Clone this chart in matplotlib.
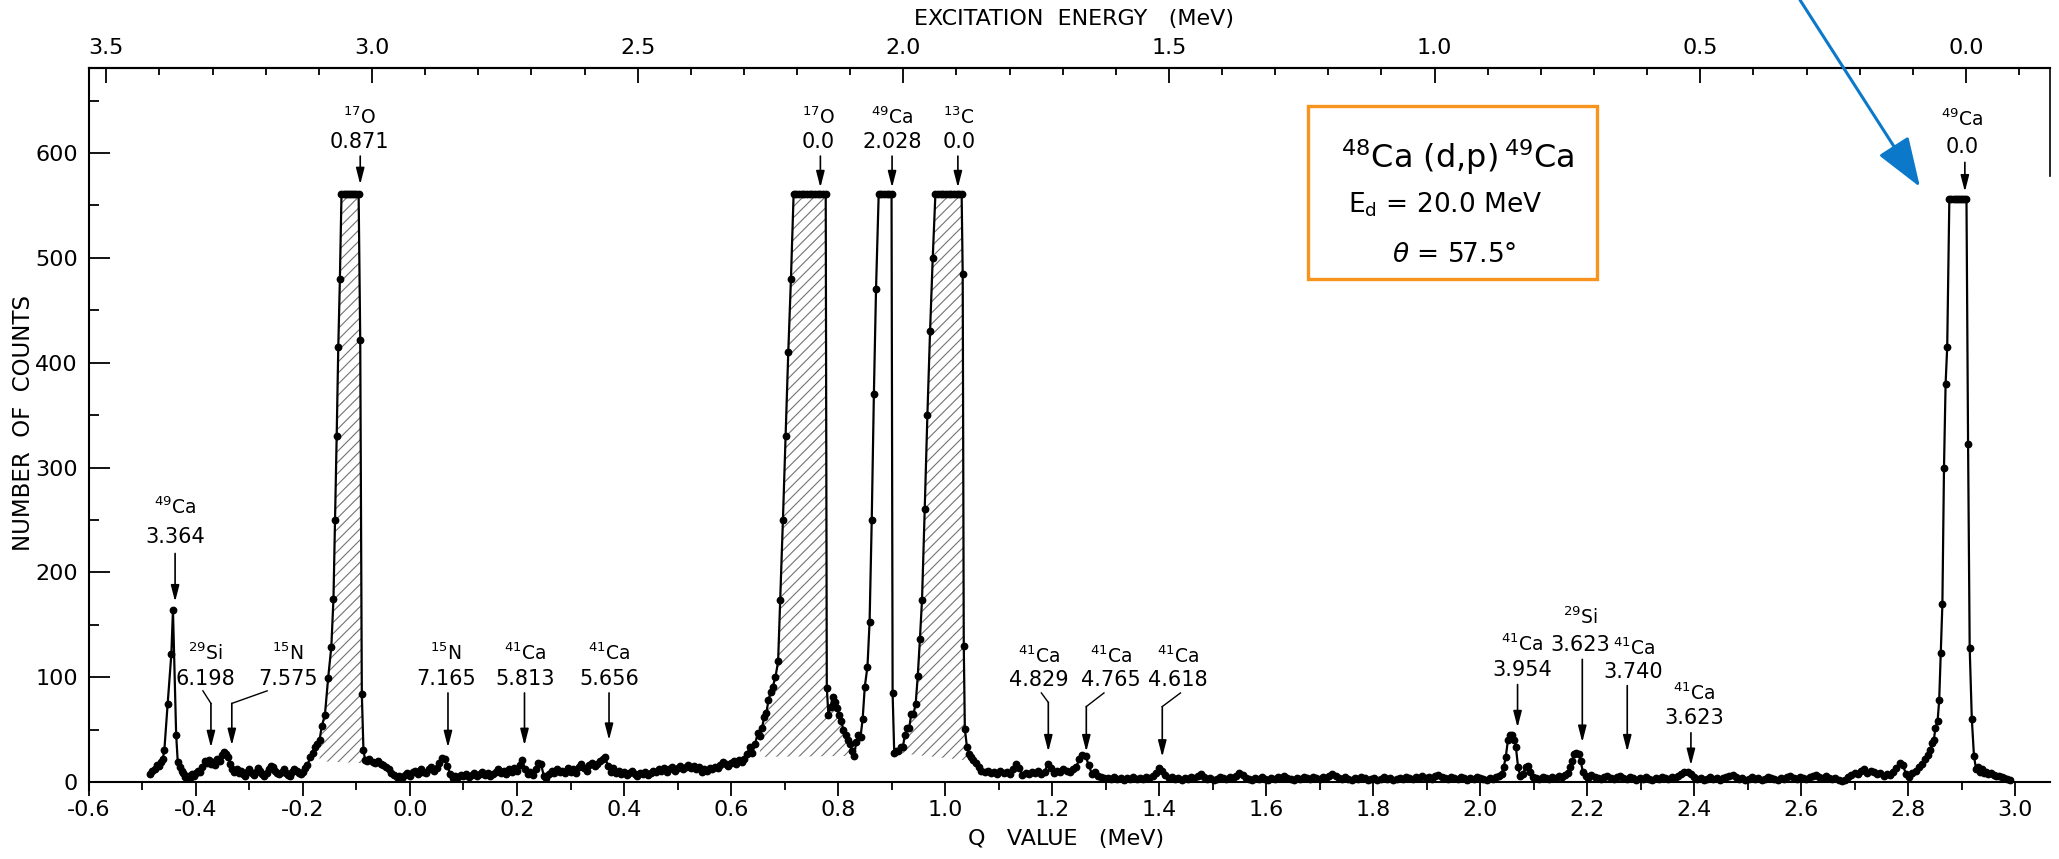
import numpy as np
import matplotlib.pyplot as plt
from matplotlib.patches import Rectangle, FancyArrowPatch
from matplotlib.ticker import MultipleLocator

plt.rcParams["font.family"] = ["DejaVu Sans"]
plt.rcParams["mathtext.fontset"] = "dejavusans"
plt.rcParams["axes.unicode_minus"] = False
plt.rcParams["hatch.linewidth"] = 0.8

# ---- spectrum (Q value in MeV, counts per strip) ----
# left edge, 49Ca 3.364 peak, 29Si / 15N bumps
q_left = [-0.486, -0.482, -0.477, -0.473, -0.470, -0.466, -0.462, -0.459, -0.453, -0.446,
          -0.443, -0.437, -0.434, -0.430, -0.427, -0.424, -0.420, -0.416, -0.412, -0.408,
          -0.404, -0.400, -0.396, -0.392, -0.388, -0.384, -0.380, -0.376, -0.372, -0.368,
          -0.364, -0.360, -0.356, -0.352, -0.348, -0.344, -0.340, -0.336, -0.332]
n_left = [8, 11, 12, 16, 15, 19, 22, 31, 74, 122,
          164, 45, 19, 14, 11, 9, 5, 6, 4, 8,
          6, 9, 11, 10, 14, 20, 18, 21, 17, 19,
          16, 22, 20, 26, 29, 27, 24, 17, 12]

# flat background runs: (first Q, last Q) and the counts in between
bg1_range = (-0.328, -0.192)
bg1_counts = [10, 12, 9, 11, 8, 6, 10, 12, 9, 7, 10, 13, 11, 8, 6, 9, 12, 15, 14, 11,
              9, 8, 10, 12, 9, 7, 6, 10, 12, 11, 9, 8, 10, 13, 16]

# 17O 0.871 (clipped at the top)
q_o871 = [-0.186, -0.182, -0.178, -0.174, -0.169, -0.165, -0.159, -0.153, -0.147, -0.143,
          -0.140, -0.137, -0.134, -0.131, -0.128, -0.124, -0.120, -0.116, -0.112, -0.108,
          -0.104, -0.100, -0.096, -0.093, -0.090, -0.087, -0.084, -0.080, -0.076]
n_o871 = [24, 28, 33, 36, 40, 53, 64, 99, 129, 175,
          250, 330, 415, 480, 561, 561, 561, 561, 561, 561,
          561, 561, 561, 422, 84, 31, 21, 20, 22]

bg2_range = (-0.070, 0.640)
bg2_counts = [19, 18, 20, 17, 16, 14, 12, 9, 7, 5, 6, 4, 7, 9, 6, 10, 11, 8, 12, 10,
              9, 12, 14, 11, 13, 18, 23, 22, 15, 8, 4, 6, 5, 7, 6, 8, 5, 7, 9, 6,
              8, 10, 7, 9, 6, 8, 10, 12, 9, 11, 8, 12, 10, 13, 11, 16, 21, 12, 8, 10,
              7, 12, 18, 17, 6, 4, 8, 11, 9, 12, 10, 11, 9, 13, 10, 12, 9, 14, 17, 13,
              11, 16, 18, 15, 17, 20, 22, 24, 15, 10, 13, 9, 11, 8, 10, 7, 9, 11, 8, 6,
              9, 8, 10, 7, 9, 11, 10, 12, 11, 13, 10, 12, 14, 11, 13, 15, 12, 14, 16, 13,
              15, 12, 14, 10, 12, 11, 13, 12, 14, 13, 16, 19, 17, 15, 18, 20, 17, 21, 19, 22,
              27, 33, 28]

# 17O 0.0 / 49Ca 2.028 / 13C 0.0 group
q_mid = [0.645, 0.650, 0.654, 0.658, 0.662, 0.666, 0.670, 0.674, 0.678, 0.683,
         0.688, 0.692, 0.697, 0.702, 0.707, 0.712, 0.717, 0.722, 0.727, 0.732,
         0.737, 0.742, 0.747, 0.752, 0.757, 0.762, 0.767, 0.772, 0.777, 0.779,
         0.782, 0.786, 0.790, 0.794, 0.798, 0.802, 0.806, 0.810, 0.814, 0.818,
         0.822, 0.826, 0.830, 0.834, 0.838, 0.842, 0.846, 0.850, 0.855, 0.859,
         0.863, 0.867, 0.871, 0.876, 0.881, 0.886, 0.891, 0.896, 0.900, 0.902,
         0.905, 0.909, 0.913, 0.917, 0.921, 0.925, 0.929, 0.933, 0.937, 0.941,
         0.945, 0.949, 0.953, 0.957, 0.962, 0.967, 0.972, 0.977, 0.982, 0.987,
         0.992, 0.997, 1.002, 1.007, 1.012, 1.017, 1.022, 1.027, 1.031, 1.033,
         1.035, 1.037, 1.041, 1.045, 1.049, 1.053, 1.058, 1.063, 1.068]
n_mid = [36, 47, 44, 52, 62, 66, 78, 86, 91, 100,
         115, 174, 250, 330, 410, 480, 561, 561, 561, 561,
         561, 561, 561, 561, 561, 561, 561, 561, 561, 90,
         64, 72, 81, 76, 71, 64, 58, 50, 45, 40,
         36, 30, 25, 38, 45, 43, 60, 91, 110, 153,
         250, 370, 470, 561, 561, 561, 561, 561, 561, 85,
         28, 30, 30, 33, 33, 45, 52, 52, 65, 65,
         74, 101, 136, 174, 260, 350, 430, 500, 561, 561,
         561, 561, 561, 561, 561, 561, 561, 561, 561, 485,
         130, 51, 33, 27, 24, 21, 18, 14, 11]

bg3_range = (1.074, 1.298)
bg3_counts = [10, 11, 9, 10, 8, 11, 9, 10, 8, 12, 17, 13, 7, 9, 8, 10, 9, 11, 8, 10,
              17, 13, 9, 11, 10, 12, 11, 10, 12, 14, 22, 26, 25, 16, 8, 10, 6, 5, 4]

bg4_range = (1.304, 2.036)
bg4_counts = [4, 3, 5, 3, 4, 2, 4, 3, 5, 3, 4, 3, 5, 4, 6, 9, 13, 11, 7, 4,
              5, 3, 4, 2, 4, 3, 5, 4, 6, 8, 5, 3, 4, 2, 3, 5, 4, 3, 5, 4,
              6, 9, 7, 4, 3, 2, 4, 3, 5, 3, 2, 4, 3, 5, 4, 6, 4, 3, 2, 4,
              3, 5, 4, 3, 5, 4, 3, 5, 4, 6, 8, 6, 4, 3, 5, 3, 2, 4, 3, 5,
              4, 2, 3, 4, 2, 3, 5, 3, 4, 2, 3, 4, 3, 5, 4, 3, 5, 4, 6, 4,
              5, 3, 6, 7, 5, 4, 3, 5, 4, 3, 5, 4, 2, 4, 3, 5, 4, 3, 2, 4,
              3, 5, 6]

# 41Ca 3.954 and 29Si 3.623
q_ca3954 = [2.040, 2.044, 2.048, 2.052, 2.056, 2.060, 2.064, 2.067, 2.071, 2.075,
            2.080, 2.085, 2.089, 2.094, 2.099, 2.105, 2.111, 2.117, 2.123, 2.129,
            2.135, 2.141, 2.147, 2.153, 2.159, 2.164, 2.168, 2.172, 2.176, 2.180,
            2.184, 2.188, 2.192, 2.197, 2.202, 2.208, 2.214]
n_ca3954 = [8, 14, 24, 40, 45, 45, 40, 33, 14, 6,
            8, 14, 15, 10, 5, 4, 3, 5, 4, 3,
            5, 4, 6, 5, 7, 9, 14, 20, 27, 28,
            27, 20, 10, 6, 4, 7, 5]

bg5_range = (2.220, 2.820)
bg5_counts = [4, 3, 5, 6, 4, 3, 5, 6, 4, 3, 5, 4, 2, 4, 3, 5, 3, 2, 4, 3,
              5, 4, 3, 5, 4, 6, 8, 10, 10, 8, 5, 3, 4, 2, 3, 5, 3, 4, 2, 4,
              5, 6, 7, 5, 3, 4, 2, 3, 5, 3, 4, 2, 3, 5, 4, 3, 2, 4, 3, 5,
              6, 4, 3, 5, 4, 3, 5, 6, 7, 5, 4, 6, 4, 3, 4, 2, 1, 2, 5, 7,
              9, 8, 11, 12, 9, 11, 10, 8, 9, 6, 8, 7, 10, 13, 18, 16, 8, 5, 9, 11,
              14]

# 49Ca ground state
q_gs = [2.826, 2.832, 2.837, 2.841, 2.845, 2.848, 2.851, 2.855, 2.858, 2.861,
        2.864, 2.867, 2.870, 2.873, 2.877, 2.881, 2.885, 2.889, 2.893, 2.897,
        2.901, 2.905, 2.909, 2.912, 2.915, 2.919, 2.923, 2.927, 2.930, 2.934,
        2.938, 2.942, 2.946, 2.950, 2.955, 2.960, 2.965, 2.970, 2.975, 2.980,
        2.985, 2.990]
n_gs = [17, 22, 26, 31, 37, 40, 52, 58, 78, 123,
        170, 300, 380, 415, 556, 556, 556, 556, 556, 556,
        556, 556, 556, 322, 128, 60, 25, 12, 14, 10,
        12, 9, 10, 8, 9, 7, 6, 6, 5, 4,
        3, 2]

# hatched contaminant peaks: Q from, Q to, floor at each end
hatch_spans = [(-0.172, -0.088, 20, 18), (0.652, 0.836, 24, 25), (0.906, 1.055, 28, 20)]

# peak labels: mass, element, level energy
peak_names = [("49", "Ca", "3.364"), ("29", "Si", "6.198"), ("15", "N", "7.575"),
              ("15", "N", "7.165"), ("41", "Ca", "5.813"), ("41", "Ca", "5.656"),
              ("17", "O", "0.871"), ("17", "O", "0.0"), ("49", "Ca", "2.028"),
              ("13", "C", "0.0"), ("41", "Ca", "4.829"), ("41", "Ca", "4.765"),
              ("41", "Ca", "4.618"), ("41", "Ca", "3.954"), ("29", "Si", "3.623"),
              ("41", "Ca", "3.740"), ("41", "Ca", "3.623"), ("49", "Ca", "0.0")]
# text x, isotope y, energy y, arrow x, arrow top, arrow tip, leader start
peak_layout = [(-0.439, 262, 234, -0.439, 218, 172, None),
               (-0.383, 123, 98, -0.372, 75, 33, (-0.387, 87)),
               (-0.228, 123, 98, -0.333, 75, 35, (-0.267, 87)),
               (0.067, 123, 98, 0.071, 85, 33, None),
               (0.215, 123, 98, 0.214, 85, 35, None),
               (0.372, 123, 98, 0.372, 85, 40, None),
               (-0.095, 634, 610, -0.093, 597, 570, None),
               (0.763, 634, 610, 0.767, 597, 567, None),
               (0.901, 634, 610, 0.901, 597, 567, None),
               (1.026, 634, 610, 1.024, 597, 567, None),
               (1.176, 120, 97, 1.193, 76, 29, (1.180, 85)),
               (1.310, 120, 97, 1.264, 72, 29, (1.297, 85)),
               (1.435, 120, 97, 1.406, 72, 24, (1.440, 85)),
               (2.079, 131, 107, 2.070, 93, 52, None),
               (2.187, 157, 131, 2.191, 117, 38, None),
               (2.287, 128, 105, 2.275, 92, 29, None),
               (2.400, 85, 61, 2.394, 47, 16, None),
               (2.901, 632, 606, 2.906, 591, 563, None)]


def run(q_range, counts):
    return np.linspace(q_range[0], q_range[1], len(counts)), np.asarray(counts, float)


def to_ex(qv):
    return (2.908 - qv) / 0.993


pieces = [(np.array(q_left), np.array(n_left, float)), run(bg1_range, bg1_counts),
          (np.array(q_o871), np.array(n_o871, float)), run(bg2_range, bg2_counts),
          (np.array(q_mid), np.array(n_mid, float)), run(bg3_range, bg3_counts),
          run(bg4_range, bg4_counts), (np.array(q_ca3954), np.array(n_ca3954, float)),
          run(bg5_range, bg5_counts), (np.array(q_gs), np.array(n_gs, float))]
q = np.concatenate([p[0] for p in pieces])
n = np.concatenate([p[1] for p in pieces])
order = np.argsort(q, kind="stable")
q, n = q[order], n[order]

fig = plt.figure(figsize=(20.59, 8.59), dpi=100)
ax = fig.add_axes([0.0432, 0.0798, 0.9524, 0.8410])
ax.set_xlim(-0.6, 3.065)
ax.set_ylim(-8, 681)

for qa, qb, ba, bb in hatch_spans:
    m = (q >= qa) & (q <= qb)
    base = np.interp(q[m], [qa, qb], [ba, bb])
    ax.fill_between(q[m], base, np.maximum(n[m], base), facecolor="none",
                    edgecolor="0.45", hatch="///", linewidth=0)

ax.plot(q, n, "-", color="black", lw=1.6, marker="o", ms=4.6, zorder=3)

# frame
for s in ["left", "top", "bottom"]:
    ax.spines[s].set_linewidth(1.5)
ax.spines["bottom"].set_position(("data", 0))
ax.spines["right"].set_visible(False)
ax.plot([1, 1], [1, 0.85], transform=ax.transAxes, color="black", lw=1.2, clip_on=False)

ax.xaxis.set_major_locator(MultipleLocator(0.2))
ax.xaxis.set_minor_locator(MultipleLocator(0.1))
ax.yaxis.set_major_locator(MultipleLocator(100))
ax.yaxis.set_minor_locator(MultipleLocator(50))
ax.tick_params(axis="x", which="major", direction="out", length=10, width=1.3,
               labelsize=16, pad=3, top=False)
ax.tick_params(axis="x", which="minor", direction="out", length=6, width=1.3, top=False)
ax.tick_params(axis="y", which="major", direction="in", length=15, width=1.3,
               labelsize=16, pad=8, right=False)
ax.tick_params(axis="y", which="minor", direction="in", length=7, width=1.3, right=False)

ax2 = ax.twiny()
ax2.set_xlim(to_ex(-0.6), to_ex(3.065))
for s in ["left", "right", "bottom"]:
    ax2.spines[s].set_visible(False)
ax2.spines["top"].set_linewidth(1.5)
ax2.xaxis.set_major_locator(MultipleLocator(0.5))
ax2.xaxis.set_minor_locator(MultipleLocator(0.1))
ax2.tick_params(axis="x", which="major", direction="in", length=11, width=1.3,
                labelsize=16, pad=7)
ax2.tick_params(axis="x", which="minor", direction="in", length=5, width=1.3)

fig.text(0.5177, 0.0230, "Q   VALUE   (MeV)", ha="center", va="center", fontsize=16)
fig.text(0.5216, 0.9780, "EXCITATION  ENERGY   (MeV)", ha="center", va="center", fontsize=16)
fig.text(0.0112, 0.5076, "NUMBER  OF  COUNTS", ha="center", va="center",
         rotation=90, fontsize=16.5)

# peak identifications
arrow_kw = dict(arrowstyle="-|>,head_width=0.18,head_length=0.7", color="black",
                lw=1.2, mutation_scale=14, shrinkA=0, shrinkB=0)
for (mass, elem, energy), (xt, yi, ye, xa, ya, yt, lead) in zip(peak_names, peak_layout):
    ax.text(xt, yi, f"$^{{{mass}}}${elem}", ha="center", va="center", fontsize=13.5)
    ax.text(xt, ye, energy, ha="center", va="center", fontsize=15)
    if lead is not None:
        ax.plot([lead[0], xa], [lead[1], ya], color="black", lw=1.0)
    ax.annotate("", xy=(xa, yt), xytext=(xa, ya), arrowprops=arrow_kw)

# reaction box
ax.add_patch(Rectangle((1.679, 480), 0.540, 165, fill=False, edgecolor="#f7941d",
                       lw=2.4, zorder=4))
ax.text(1.959, 586, r"$^{48}$Ca (d,p)$\,^{49}$Ca", ha="center", va="baseline", fontsize=23)
ax.text(1.753, 543, r"E$_{\mathrm{d}}$ = 20.0 MeV", ha="left", va="baseline", fontsize=19)
ax.text(1.836, 496, r"$\theta$ = 57.5°", ha="left", va="baseline", fontsize=19)

# blue pointer to the ground state
fig.add_artist(FancyArrowPatch((1800 / 2059, 1.0), (1920 / 2059, 1 - 187 / 859),
                               transform=fig.transFigure, color="#0b78c9", lw=2.2,
                               arrowstyle="-|>,head_width=0.5,head_length=1.4",
                               mutation_scale=22, shrinkA=0, shrinkB=0))

fig.savefig("out.png", dpi=100)
